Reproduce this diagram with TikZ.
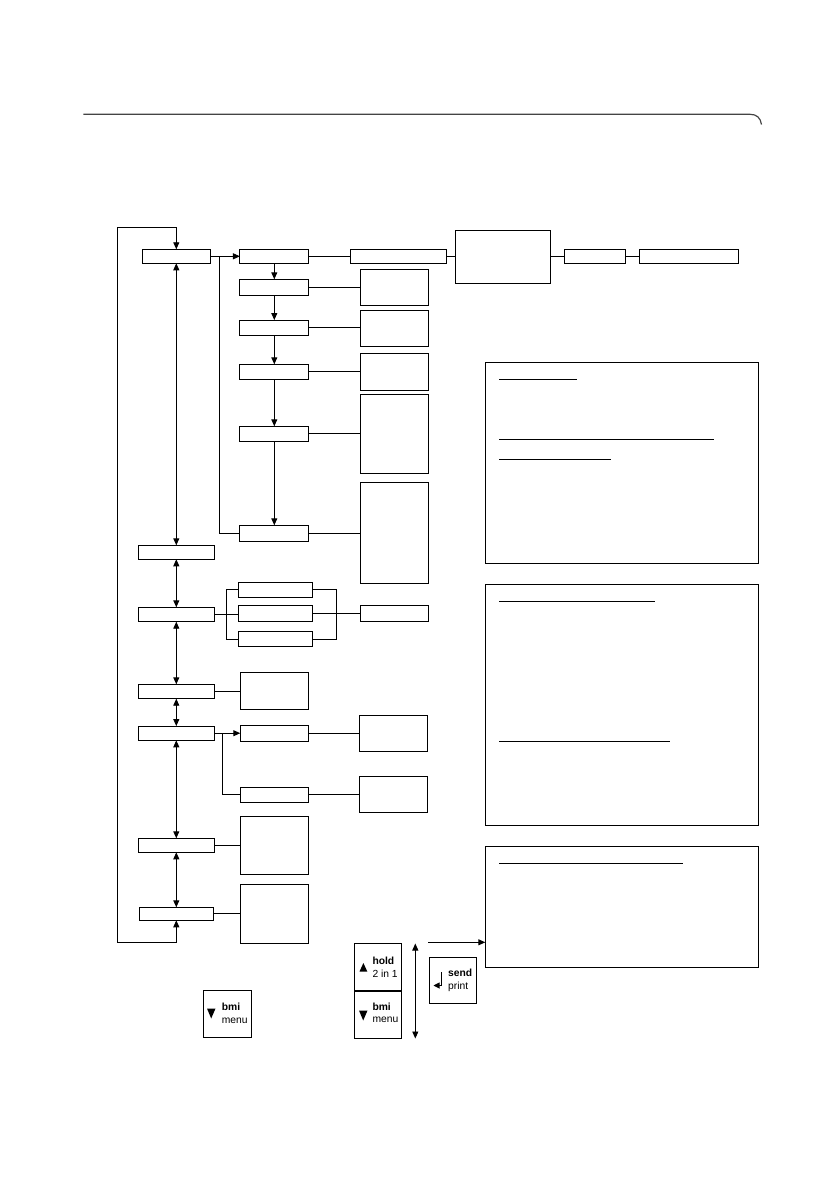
\documentclass[tikz,border=0pt]{standalone}
\usepackage{fontspec}
\setmainfont{Liberation Sans}
\usepackage{tikz}
\usetikzlibrary{arrows.meta}
\definecolor{grigio}{HTML}{444444}

\begin{document}
\begin{tikzpicture}[x=1pt, y=-1pt,
    casella/.style 2 args={draw, line width=1pt, inner sep=0pt, outer sep=0pt,
        minimum width=#1pt, minimum height=#2pt},
    linea/.style={line width=0.9pt},
    freccia/.style={linea, -{Triangle[length=7pt,width=6pt]}},
    dfreccia/.style={linea, {Triangle[length=7pt,width=6pt]}-{Triangle[length=7pt,width=6pt]}},
    tasto/.style={font=\fontsize{10.3}{12}\selectfont, inner sep=0pt, anchor=west}]
        \useasboundingbox (0,0) rectangle (838,1190);
        % intestazione
        \draw[line width=1.2pt, color=grigio] (83.3,114.3) -- (750,114.3)
            .. controls (757,114.3) and (760.5,118) .. (761.5,124.5);
        % colonna sinistra
        \node[casella={68.4}{14}] (A1) at (176.3,256.3) {};
        \node[casella={75.4}{14}] (A2) at (176.3,552.3) {};
        \node[casella={75.4}{14.4}] (A3) at (176.3,614.5) {};
        \node[casella={75.4}{14.4}] (A4) at (176.3,691.5) {};
        \node[casella={75.4}{14.3}] (A5) at (176.3,733.2) {};
        \node[casella={75.4}{14}] (A6) at (176.3,845.3) {};
        \node[casella={74.4}{13}] (A7) at (176.3,913.8) {};
        % sottomenu
        \node[casella={68.7}{14}] (B1) at (274.3,256.3) {};
        \node[casella={68.7}{16}] (B2) at (274.3,287.3) {};
        \node[casella={68.7}{15.3}] (B3) at (274.3,327.7) {};
        \node[casella={68.7}{15}] (B4) at (274.3,371.8) {};
        \node[casella={68.7}{15}] (B5) at (274.3,433.8) {};
        \node[casella={68.7}{16}] (B6) at (274.3,533.3) {};
        \node[casella={96.2}{14}] (C1) at (398.6,256.3) {};
        \node[casella={68}{36}] (C2) at (394.3,287.3) {};
        \node[casella={68}{36}] (C3) at (394.3,328.3) {};
        \node[casella={68}{37}] (C4) at (394.3,371.8) {};
        \node[casella={68}{79}] (C5) at (394.3,433.8) {};
        \node[casella={68}{101}] (C6) at (394.3,532.8) {};
        \node[casella={95.4}{53}] (D) at (503,256.8) {};
        \node[casella={61.4}{14}] (E1) at (595,256.3) {};
        \node[casella={99.4}{14}] (E2) at (689,256.3) {};
        \node[casella={74.4}{15}] (F1) at (275.5,589.8) {};
        \node[casella={74.4}{15.7}] (F2) at (275.5,613.8) {};
        \node[casella={74.4}{15.4}] (F3) at (275.5,639) {};
        \node[casella={68}{15.7}] (G) at (394.3,613.8) {};
        \node[casella={68.4}{37}] (H) at (274.5,690.8) {};
        \node[casella={68.4}{16}] (I1) at (274.5,733.3) {};
        \node[casella={68.4}{15}] (I2) at (274.5,794.8) {};
        \node[casella={68}{36}] (J1) at (393.3,733.3) {};
        \node[casella={68}{36}] (J2) at (393.3,794.3) {};
        \node[casella={68.4}{58}] (K1) at (274.5,845.3) {};
        \node[casella={68.4}{59}] (K2) at (274.5,913.8) {};
        % riquadri di testo
        \node[casella={273.4}{201.4}] (T1) at (622,463) {};
        \node[casella={273.4}{241.4}] (T2) at (622,705) {};
        \node[casella={273.4}{121.3}] (T3) at (622,906.7) {};
        \draw[linea] (499,379.3) -- (577,379.3);
        \draw[linea] (499,439.3) -- (714.3,439.3);
        \draw[linea] (499,459.3) -- (611.3,459.3);
        \draw[linea] (499,601.3) -- (655,601.3);
        \draw[linea] (499,741.3) -- (670,741.3);
        \draw[linea] (499,863.3) -- (682.7,863.3);
        % tasti
        \node[casella={47.7}{47}] (k1) at (227.8,1013.8) {};
        \node[casella={47}{47.7}] (k2) at (377.8,967.2) {};
        \node[casella={47}{47.7}] (k3) at (377.8,1014.8) {};
        \node[casella={47.2}{46.5}] (k4) at (453,980.5) {};
        \node[tasto] (k1a) at (221.7,1007.3) {\textbf{bmi}};
        \node[tasto] (k1b) at (221.7,1020.5) {menu};
        \node[tasto] (k2a) at (372.3,960.5) {\textbf{hold}};
        \node[tasto] (k2b) at (372.3,973.5) {2 in 1};
        \node[tasto] (k3a) at (372.3,1006.5) {\textbf{bmi}};
        \node[tasto] (k3b) at (372.3,1020) {menu};
        \node[tasto] (k4a) at (448,973) {\textbf{send}};
        \node[tasto] (k4b) at (448,986.7) {print};
        \fill (207,1008.5) -- (215.5,1008.5) -- (211.2,1018.5) -- cycle;
        \fill (359.5,971.5) -- (367.3,971.5) -- (363.4,963) -- cycle;
        \fill (359,1010.5) -- (367.5,1010.5) -- (363.2,1020.5) -- cycle;
        \draw[linea, -{Triangle[length=6pt,width=6pt]}] (441.7,972) -- (441.7,985.5) -- (433.5,985.5);
        % collegamenti colonna sinistra
        \coordinate (giro) at (117.3,942);
        \coordinate (giroalto) at (117.3,227.3);
        \draw[dfreccia] (A7.south) |- (giro) -- (giroalto) -| (A1.north);
        \draw[dfreccia] (A1.south) -- (A2.north);
        \draw[dfreccia] (A2.south) -- (A3.north);
        \draw[dfreccia] (A3.south) -- (A4.north);
        \draw[dfreccia] (A4.south) -- (A5.north);
        \draw[dfreccia] (A5.south) -- (A6.north);
        \draw[dfreccia] (A6.south) -- (A7.north);
        % collegamenti sottomenu
        \coordinate (r1) at (219,256.3);
        \coordinate (r2) at (222.3,733.2);
        \draw[freccia] (A1.east) -- (B1.west);
        \draw[linea] (r1) |- (B6.west);
        \draw[freccia] (B1.south) -- (B2.north);
        \draw[freccia] (B2.south) -- (B3.north);
        \draw[freccia] (B3.south) -- (B4.north);
        \draw[freccia] (B4.south) -- (B5.north);
        \draw[freccia] (B5.south) -- (B6.north);
        \draw[linea] (B1.east) -- (C1.west);
        \draw[linea] (C1.east) -- (C1.east -| D.west);
        \draw[linea] (D.east |- E1.west) -- (E1.west);
        \draw[linea] (E1.east) -- (E2.west);
        \draw[linea] (B2.east) -- (B2.east -| C2.west);
        \draw[linea] (B3.east) -- (B3.east -| C3.west);
        \draw[linea] (B4.east) -- (B4.east -| C4.west);
        \draw[linea] (B5.east) -- (B5.east -| C5.west);
        \draw[linea] (B6.east) -- (B6.east -| C6.west);
        \draw[linea] (A3.east) -- (A3.east -| F2.west);
        \draw[linea] (F1.west) -- ++(-12,0) |- (F3.west);
        \draw[linea] (F1.east) -- ++(24,0) |- (F3.east);
        \draw[linea] (F2.east) -- (G.west);
        \draw[linea] (A4.east) -- (H.west |- A4.east);
        \draw[freccia] (A5.east) -- (A5.east -| I1.west);
        \draw[linea] (r2) |- (I2.west);
        \draw[linea] (I1.east) -- (I1.east -| J1.west);
        \draw[linea] (I2.east) -- (I2.east -| J2.west);
        \draw[linea] (A6.east) -- (K1.west);
        \draw[linea] (A7.east) -- (K2.west);
        % frecce dei tasti
        \coordinate (su) at (415.3,943.5);
        \coordinate (giu) at (415.3,1038.5);
        \coordinate (fr) at (428,942.3);
        \draw[dfreccia] (su) -- (giu);
        \draw[freccia] (fr) -- (fr -| T3.west);
    \end{tikzpicture}
\end{document}
